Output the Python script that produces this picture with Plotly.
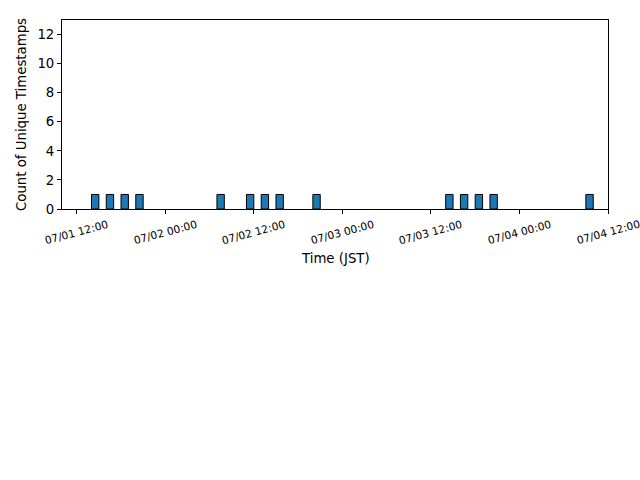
import plotly.graph_objects as go
import pandas as pd

# Data (hour bins, JST)
bin_starts = [
    "2024-07-01 14:00", "2024-07-01 16:00", "2024-07-01 18:00", "2024-07-01 20:00",
    "2024-07-02 07:00", "2024-07-02 11:00", "2024-07-02 13:00", "2024-07-02 15:00",
    "2024-07-02 20:00",
    "2024-07-03 14:00", "2024-07-03 16:00", "2024-07-03 18:00", "2024-07-03 20:00",
    "2024-07-04 09:00",
]
counts = [1, 1, 1, 1, 1, 1, 1, 1, 1, 1, 1, 1, 1, 1]

tick_vals = ["2024-07-01 12:00", "2024-07-02 00:00", "2024-07-02 12:00",
             "2024-07-03 00:00", "2024-07-03 12:00", "2024-07-04 00:00",
             "2024-07-04 12:00"]
tick_text = ["07/01 12:00", "07/02 00:00", "07/02 12:00", "07/03 00:00",
             "07/03 12:00", "07/04 00:00", "07/04 12:00"]

x_range = ["2024-07-01 10:00", "2024-07-04 12:00"]
y_range = [0, 13]

FONT = "DejaVu Sans"
HOUR_MS = 3600 * 1000

fig = go.Figure()
fig.add_trace(go.Bar(
    x=pd.to_datetime(bin_starts),
    y=counts,
    width=HOUR_MS,
    offset=0,
    marker=dict(color="#1f77b4", line=dict(color="black", width=1)),
))

fig.update_layout(
    width=640, height=480,
    margin=dict(l=62, r=32, t=20, b=271),
    plot_bgcolor="white", paper_bgcolor="white",
    showlegend=False,
    font=dict(family=FONT, color="black"),
    xaxis=dict(
        type="date", range=x_range,
        tickvals=tick_vals, showticklabels=False,
        ticks="outside", ticklen=4, tickwidth=1, tickcolor="black",
        showline=True, linecolor="black", linewidth=1, mirror=True,
        showgrid=False, zeroline=False,
    ),
    yaxis=dict(
        range=y_range, tickvals=[0, 2, 4, 6, 8, 10, 12],
        ticks="outside", ticklen=4, tickwidth=1, tickcolor="black",
        tickfont=dict(size=13.3, family=FONT),
        showline=True, linecolor="black", linewidth=1, mirror=True,
        showgrid=False, zeroline=False,
        title=dict(text="Count of Unique Timestamps", font=dict(size=13.3, family=FONT), standoff=7),
    ),
)

for tv, tt in zip(tick_vals, tick_text):
    fig.add_annotation(
        x=tv, xref="x", y=-0.125, yref="paper",
        text=tt, textangle=-15, showarrow=False,
        font=dict(size=10.7, family=FONT, color="black"),
        xanchor="center", yanchor="middle",
    )

fig.add_annotation(
    x=0.5, xref="paper", y=-0.26, yref="paper",
    text="Time (JST)", showarrow=False,
    font=dict(size=13.3, family=FONT, color="black"),
    xanchor="center", yanchor="middle",
)

fig.write_html("out.html")
